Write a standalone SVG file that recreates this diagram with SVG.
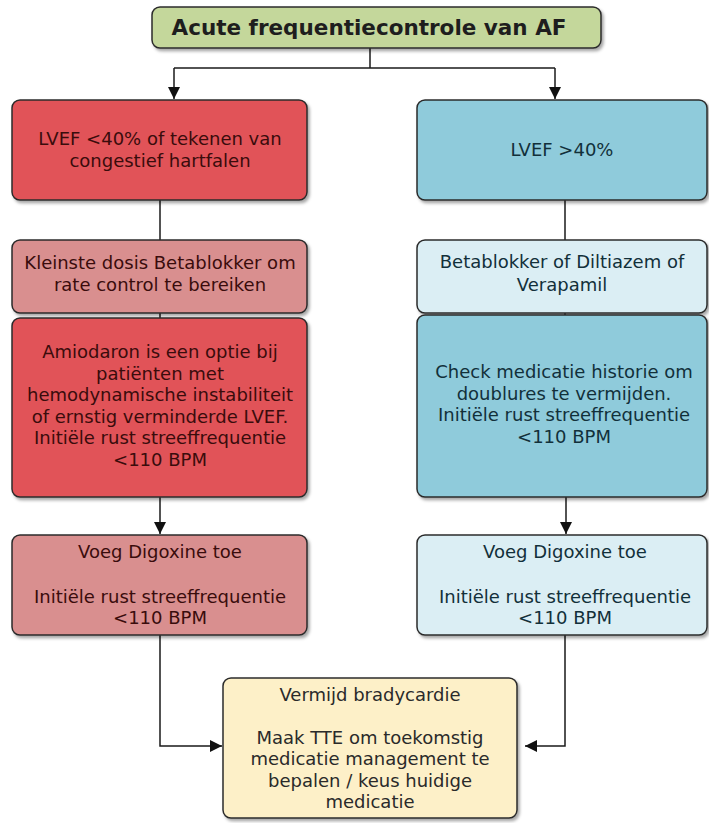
<svg xmlns="http://www.w3.org/2000/svg" width="709" height="823" viewBox="0 0 709 823">
<defs>
<filter id="sh" x="-5%" y="-5%" width="115%" height="120%">
<feDropShadow dx="2" dy="2.5" stdDeviation="1.5" flood-color="#000" flood-opacity="0.35"/>
</filter>
<marker id="ah" markerUnits="userSpaceOnUse" markerWidth="12" markerHeight="12" viewBox="0 0 12 12" refX="12" refY="6" orient="auto">
<path d="M0,0 L12,6 L0,12 Z" fill="#111"/>
</marker>
<style>
.b{stroke:#2b2b2b;stroke-width:1.5;filter:url(#sh)}
.t{font-family:"DejaVu Sans",Verdana,sans-serif;font-size:18px;text-anchor:middle}
.red{fill:#e15258}
.pink{fill:#d98f8f}
.blue{fill:#8fcbdb}
.lblue{fill:#dbeef4}
.cream{fill:#fdf0c8}
.tr{fill:#3a0c0c}
.tb{fill:#12303a}
.tc{fill:#2a2a2a}
.c{fill:none;stroke:#1a1a1a;stroke-width:1.5}
</style>
</defs>
<rect width="709" height="823" fill="#ffffff"/>

<g id="connectors">
<path class="c" d="M370,48 V68"/>
<path class="c" d="M174,68 H555"/>
<path class="c" d="M174,68 V99" marker-end="url(#ah)"/>
<path class="c" d="M555,68 V99" marker-end="url(#ah)"/>
<path class="c" d="M160,200 V240"/>
<path class="c" d="M565,200 V240"/>
<path class="c" d="M160,313 V318"/>
<path class="c" d="M565,313 V315"/>
<path class="c" d="M160,497 V534" marker-end="url(#ah)"/>
<path class="c" d="M566,497 V534" marker-end="url(#ah)"/>
<path class="c" d="M160,635 V746 H222" marker-end="url(#ah)"/>
<path class="c" d="M565,635 V746 H525" marker-end="url(#ah)"/>
</g>

<g id="title">
<rect class="b" x="152" y="7" width="449" height="41" rx="8" fill="#c4d79b"/>
<text x="369" y="35" style="font-family:'DejaVu Sans',Verdana,sans-serif;font-size:21.5px;font-weight:bold;text-anchor:middle" fill="#1e1e1e">Acute frequentiecontrole van AF</text>
</g>

<g id="left1">
<rect class="b red" x="12" y="100" width="295" height="100" rx="8"/>
<text class="t tr" x="160" y="145">LVEF &lt;40% of tekenen van</text>
<text class="t tr" x="160" y="167">congestief hartfalen</text>
</g>

<g id="left2">
<rect class="b pink" x="12" y="240" width="295" height="73" rx="8"/>
<text class="t tr" x="160" y="269">Kleinste dosis Betablokker om</text>
<text class="t tr" x="160" y="291">rate control te bereiken</text>
</g>

<g id="left3">
<rect class="b red" x="12" y="318" width="295" height="179" rx="8"/>
<text class="t tr" x="160" y="358">Amiodaron is een optie bij</text>
<text class="t tr" x="160" y="380">patiënten met</text>
<text class="t tr" x="160" y="401">hemodynamische instabiliteit</text>
<text class="t tr" x="160" y="423">of ernstig verminderde LVEF.</text>
<text class="t tr" x="160" y="444">Initiële rust streeffrequentie</text>
<text class="t tr" x="160" y="466">&lt;110 BPM</text>
</g>

<g id="left4">
<rect class="b pink" x="12" y="535" width="295" height="100" rx="8"/>
<text class="t tr" x="160" y="558">Voeg Digoxine toe</text>
<text class="t tr" x="160" y="603">Initiële rust streeffrequentie</text>
<text class="t tr" x="160" y="624">&lt;110 BPM</text>
</g>

<g id="right1">
<rect class="b blue" x="417" y="100" width="290" height="100" rx="8"/>
<text class="t tb" x="562" y="156">LVEF &gt;40%</text>
</g>

<g id="right2">
<rect class="b lblue" x="417" y="240" width="290" height="73" rx="8"/>
<text class="t tb" x="562" y="268">Betablokker of Diltiazem of</text>
<text class="t tb" x="562" y="291">Verapamil</text>
</g>

<g id="right3">
<rect class="b blue" x="417" y="315" width="290" height="182" rx="8"/>
<text class="t tb" x="564" y="378">Check medicatie historie om</text>
<text class="t tb" x="564" y="400">doublures te vermijden.</text>
<text class="t tb" x="564" y="421">Initiële rust streeffrequentie</text>
<text class="t tb" x="564" y="443">&lt;110 BPM</text>
</g>

<g id="right4">
<rect class="b lblue" x="417" y="535" width="290" height="100" rx="8"/>
<text class="t tb" x="565" y="558">Voeg Digoxine toe</text>
<text class="t tb" x="565" y="603">Initiële rust streeffrequentie</text>
<text class="t tb" x="565" y="624">&lt;110 BPM</text>
</g>

<g id="bottom">
<rect class="b cream" x="223" y="678" width="294" height="140" rx="8"/>
<text class="t tc" x="370" y="701">Vermijd bradycardie</text>
<text class="t tc" x="370" y="744">Maak TTE om toekomstig</text>
<text class="t tc" x="370" y="765">medicatie management te</text>
<text class="t tc" x="370" y="787">bepalen / keus huidige</text>
<text class="t tc" x="370" y="808">medicatie</text>
</g>
</svg>
